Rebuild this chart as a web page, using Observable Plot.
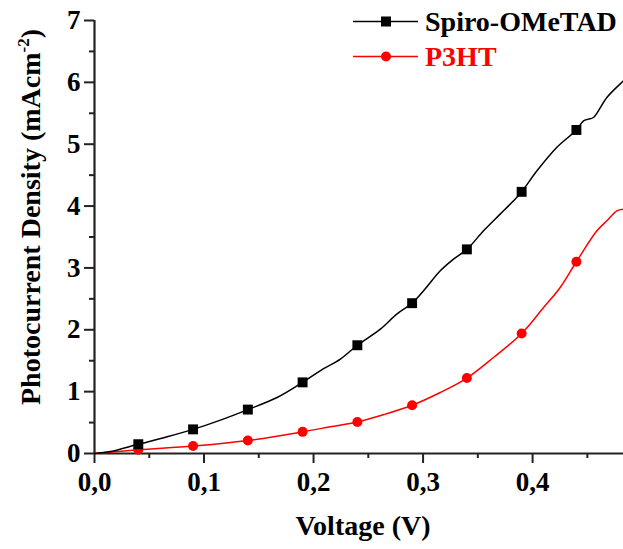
<!DOCTYPE html>
<html>
<head>
<meta charset="utf-8">
<script src="https://cdn.jsdelivr.net/npm/d3@7"></script>
<script src="https://cdn.jsdelivr.net/npm/@observablehq/plot@0.6"></script>
<style>
  body { margin: 0; background: #fff; }
  #chart { width: 623px; height: 549px; }
</style>
</head>
<body>
<div id="chart"></div>
<script>
// Series names and colours
const seriesNames = ["Spiro-OMeTAD", "P3HT"];
const seriesColors = ["#000000", "#ff0000"];

// Spiro-OMeTAD photocurrent trace (V, mA/cm²)
const spiroVoltage = [0, 0.0146, 0.04, 0.0663, 0.09, 0.115, 0.14, 0.1667, 0.19, 0.206, 0.2245, 0.24, 0.261, 0.276, 0.29, 0.3005, 0.3157, 0.3278, 0.34, 0.3552, 0.3704, 0.3826, 0.39, 0.404, 0.422, 0.44, 0.4465, 0.451, 0.4556, 0.4678, 0.4815, 0.483];
const spiroCurrent = [0, 0.032, 0.15, 0.27, 0.39, 0.54, 0.71, 0.905, 1.15, 1.337, 1.526, 1.75, 2.011, 2.254, 2.43, 2.63, 2.953, 3.142, 3.30, 3.60, 3.87, 4.085, 4.23, 4.57, 4.947, 5.23, 5.378, 5.406, 5.432, 5.755, 6.0, 6.025];

// P3HT photocurrent trace (V, mA/cm²)
const p3htVoltage = [0, 0.04, 0.09, 0.14, 0.19, 0.2153, 0.24, 0.2655, 0.29, 0.3157, 0.34, 0.3643, 0.39, 0.41, 0.4252, 0.44, 0.4587, 0.4678, 0.4769, 0.483];
const p3htCurrent = [0, 0.06, 0.12, 0.21, 0.35, 0.432, 0.51, 0.637, 0.78, 0.986, 1.22, 1.552, 1.94, 2.36, 2.684, 3.10, 3.60, 3.762, 3.923, 3.951];

// Symbol positions along both traces
const markerVoltage = [0.04, 0.09, 0.14, 0.19, 0.24, 0.29, 0.34, 0.39, 0.44];
const spiroMarkers = [0.15, 0.39, 0.71, 1.15, 1.75, 2.43, 3.30, 4.23, 5.23];
const p3htMarkers = [0.06, 0.12, 0.21, 0.35, 0.51, 0.78, 1.22, 1.94, 3.10];

// Axis ticks
const xMajorTicks = [0, 0.1, 0.2, 0.3, 0.4];
const xTickLabels = ["0,0", "0,1", "0,2", "0,3", "0,4"];
const xMinorTicks = [0.05, 0.15, 0.25, 0.35, 0.45];
const yMajorTicks = [0, 1, 2, 3, 4, 5, 6, 7];
const yTickLabels = ["0", "1", "2", "3", "4", "5", "6", "7"];
const yMinorTicks = [0.5, 1.5, 2.5, 3.5, 4.5, 5.5, 6.5];

const xTitle = "Voltage (V)";
const yTitleMain = "Photocurrent Density (mAcm";
const yTitleSup = "-2";
const yTitleEnd = ")";

const spiroLine = spiroVoltage.map((v, i) => ({v, j: spiroCurrent[i]}));
const p3htLine = p3htVoltage.map((v, i) => ({v, j: p3htCurrent[i]}));
const spiroDots = markerVoltage.map((v, i) => ({v, j: spiroMarkers[i]}));
const p3htDots = markerVoltage.map((v, i) => ({v, j: p3htMarkers[i]}));

const serif = "'Liberation Serif', 'Times New Roman', serif";
const axisColor = "#222";

const chart = Plot.plot({
  width: 623,
  height: 549,
  marginLeft: 94,
  marginRight: 0,
  marginTop: 20,
  marginBottom: 96,
  x: {domain: [0, 0.483]},
  y: {domain: [0, 7]},
  style: {fontFamily: serif, fontWeight: "bold", fontSize: "27px", color: "#000", background: "#fff"},
  marks: [
    Plot.axisX(xMinorTicks, {tickSize: 5, strokeWidth: 2, stroke: axisColor, tickFormat: () => "", label: null}),
    Plot.axisX(xMajorTicks, {tickSize: 10, tickPadding: 8, strokeWidth: 2, stroke: axisColor, fill: "#000", fontSize: 27,
      tickFormat: d => xTickLabels[xMajorTicks.indexOf(d)], label: null}),
    Plot.axisY(yMinorTicks, {tickSize: 5, strokeWidth: 2, stroke: axisColor, tickFormat: () => "", label: null}),
    Plot.axisY(yMajorTicks, {tickSize: 10, tickPadding: 4, strokeWidth: 2, stroke: axisColor, fill: "#000", fontSize: 27,
      tickFormat: d => yTickLabels[yMajorTicks.indexOf(d)], label: null}),
    Plot.ruleY([0], {stroke: axisColor, strokeWidth: 2.2}),
    Plot.ruleX([0], {stroke: axisColor, strokeWidth: 2.2}),
    Plot.line(p3htLine, {x: "v", y: "j", stroke: seriesColors[1], strokeWidth: 1.5, curve: "catmull-rom"}),
    Plot.line(spiroLine, {x: "v", y: "j", stroke: seriesColors[0], strokeWidth: 1.5, curve: "catmull-rom"}),
    Plot.dot(p3htDots, {x: "v", y: "j", r: 5, fill: seriesColors[1], stroke: "none"}),
    Plot.dot(spiroDots, {x: "v", y: "j", r: 5.6, symbol: "square", fill: seriesColors[0], stroke: "none"})
  ]
});

const svg = d3.select(chart);

// Axis titles
svg.append("text")
  .attr("x", 363).attr("y", 535)
  .attr("text-anchor", "middle")
  .attr("font-family", serif).attr("font-weight", "bold").attr("font-size", 28)
  .attr("fill", "#000")
  .text(xTitle);

const yt = svg.append("text")
  .attr("transform", "translate(40,217) rotate(-90)")
  .attr("text-anchor", "middle")
  .attr("font-family", serif).attr("font-weight", "bold").attr("font-size", 28)
  .attr("fill", "#000");
yt.append("tspan").text(yTitleMain);
yt.append("tspan").attr("dy", -11).attr("font-size", 17).text(yTitleSup);
yt.append("tspan").attr("dy", 11).text(yTitleEnd);

// Legend, top right
const legend = svg.append("g");
const rowY = [21.5, 56.5];
seriesNames.forEach((name, i) => {
  const g = legend.append("g").attr("transform", `translate(0,${rowY[i]})`);
  g.append("line").attr("x1", 353).attr("x2", 418).attr("y1", 0).attr("y2", 0)
    .attr("stroke", seriesColors[i]).attr("stroke-width", 1.5);
  if (i === 0) {
    g.append("rect").attr("x", 381).attr("y", -5).attr("width", 10).attr("height", 10).attr("fill", seriesColors[i]);
  } else {
    g.append("circle").attr("cx", 386).attr("cy", 0).attr("r", 5).attr("fill", seriesColors[i]);
  }
  g.append("text").attr("x", 425).attr("y", 9)
    .attr("text-anchor", "start")
    .attr("font-family", serif).attr("font-weight", "bold").attr("font-size", 28)
    .attr("fill", seriesColors[i])
    .text(name);
});

document.getElementById("chart").append(chart);
</script>
</body>
</html>
